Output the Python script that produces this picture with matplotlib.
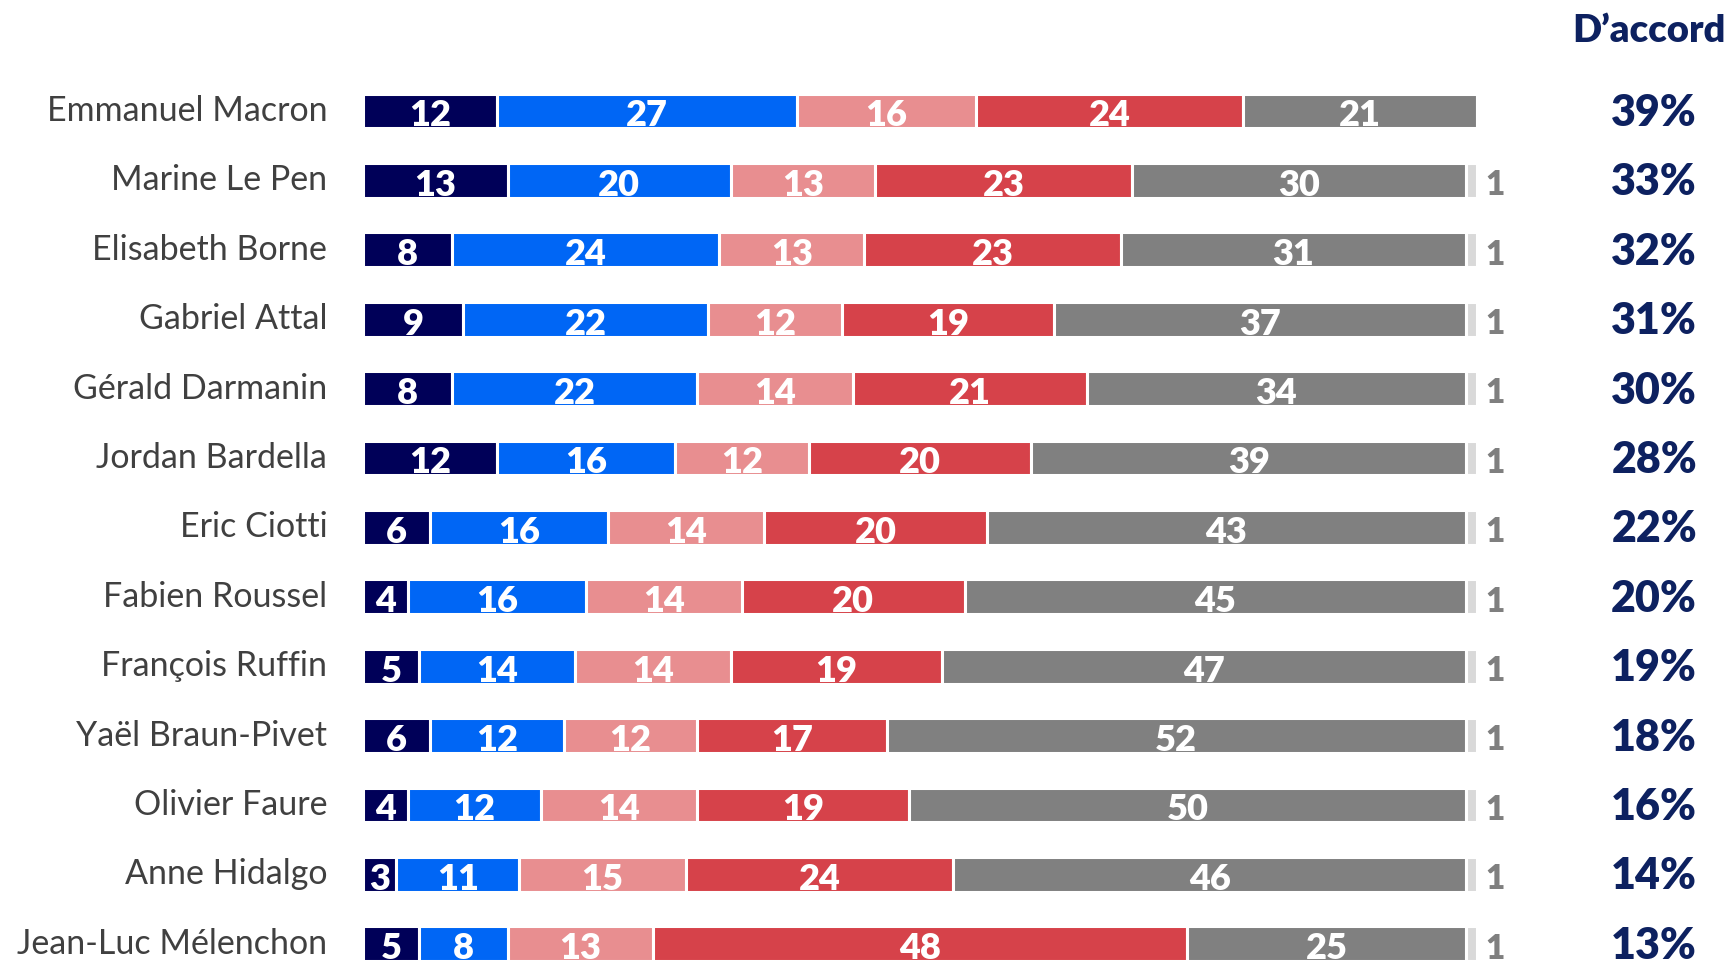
import matplotlib
matplotlib.use("Agg")
import matplotlib.pyplot as plt

names = ["Emmanuel Macron", "Marine Le Pen", "Elisabeth Borne", "Gabriel Attal",
         "Gérald Darmanin", "Jordan Bardella", "Eric Ciotti", "Fabien Roussel",
         "François Ruffin", "Yaël Braun-Pivet", "Olivier Faure", "Anne Hidalgo",
         "Jean-Luc Mélenchon"]
tout_a_fait = [12, 13, 8, 9, 8, 12, 6, 4, 5, 6, 4, 3, 5]
plutot_accord = [27, 20, 24, 22, 22, 16, 16, 16, 14, 12, 12, 11, 8]
plutot_pas = [16, 13, 13, 12, 14, 12, 14, 14, 14, 12, 14, 15, 13]
pas_du_tout = [24, 23, 23, 19, 21, 20, 20, 20, 19, 17, 19, 24, 48]
ne_connait_pas = [21, 30, 31, 37, 34, 39, 43, 45, 47, 52, 50, 46, 25]
nsp = [0, 1, 1, 1, 1, 1, 1, 1, 1, 1, 1, 1, 1]
accord = [39, 33, 32, 31, 30, 28, 22, 20, 19, 18, 16, 14, 13]

series = [tout_a_fait, plutot_accord, plutot_pas, pas_du_tout, ne_connait_pas, nsp]
colors = ["#000058", "#0066F5", "#E88E90", "#D6424A", "#808080", "#D9D9D9"]

W, H = 1728, 960
fig = plt.figure(figsize=(W / 100, H / 100), dpi=100)
ax = fig.add_axes([0, 0, 1, 1])

x0_px, x100_px = 363, 1477
ppu = (x100_px - x0_px) / 100.0
row0_px, row_step = 111, 69.4
ax.set_xlim(-x0_px / ppu, (W - x0_px) / ppu)
ax.set_ylim((H - row0_px) / row_step, -row0_px / row_step)
ax.axis("off")

FONT = "Lato"
BOLD = "heavy"
ys = list(range(len(names)))
left = [0] * len(names)
for k, (vals, col) in enumerate(zip(series, colors)):
    ax.barh(ys, vals, left=left, height=0.5, color=col, edgecolor="white", linewidth=2.2)
    for i, v in enumerate(vals):
        if v > 0 and k < 5:
            ax.text(left[i] + v / 2, ys[i] + 0.07, str(v), ha="center", va="center",
                    color="white", fontsize=26, fontweight=BOLD, family=FONT)
        elif v > 0 and k == 5:
            ax.text(left[i] + v + 1.6, ys[i] + 0.07, str(v), ha="center", va="center",
                    color="#7F7F7F", fontsize=24, fontweight=BOLD, family=FONT)
    left = [l + v for l, v in zip(left, vals)]

for i, n in enumerate(names):
    ax.text(-3.2, ys[i], n, ha="right", va="center", color="#404040", fontsize=24.5, family=FONT)
    ax.text(115.9, ys[i] + 0.03, f"{accord[i]}%", ha="center", va="center", color="#0D2160",
            fontsize=31, fontweight=BOLD, family=FONT)

ax.text(115.4, -1.15, "D’accord", ha="center", va="center", color="#0D2160",
        fontsize=27.5, fontweight=BOLD, family=FONT)

fig.savefig("out.png", dpi=100)
